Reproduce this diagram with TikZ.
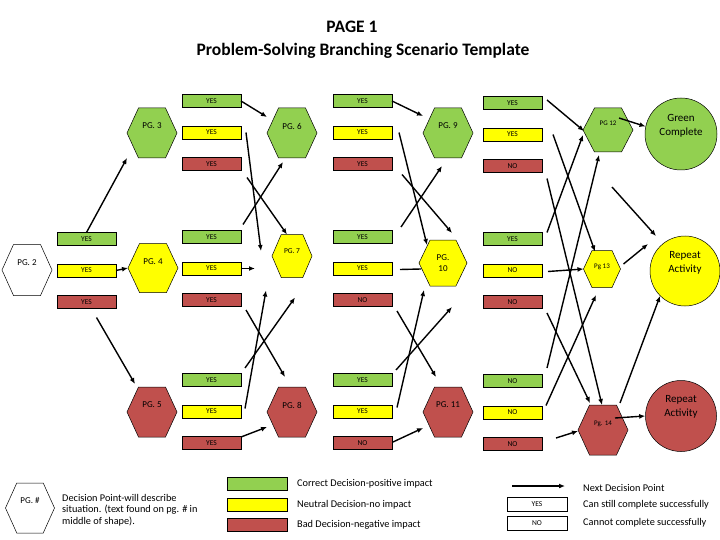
\documentclass[tikz,border=0pt]{standalone}
\usepackage{fontspec}
\setmainfont{Carlito}
\usetikzlibrary{arrows.meta,calc}
\definecolor{pgGreen}{HTML}{92D050}
\definecolor{pgYellow}{HTML}{FFFF00}
\definecolor{pgRed}{HTML}{C0504D}
% decision point: name, x, y, width, height, fill, text, text shift
\newcommand{\hexpg}[8]{%
  \node[hexbox, minimum width=#4pt, minimum height=#5pt] (#1) at (#2,#3) {};
  \draw[hexline, fill=#6] (#1.west) -- ($(#1.north west)!0.23!(#1.north east)$)
    -- ($(#1.north west)!0.77!(#1.north east)$) -- (#1.east)
    -- ($(#1.south west)!0.77!(#1.south east)$) -- ($(#1.south west)!0.23!(#1.south east)$) -- cycle;
  \node[hextext] at ($(#1.center)+(0,#8)$) {#7};
}

\begin{document}
\begin{tikzpicture}[x=1pt, y=-1pt,
  choice/.style={draw, line width=0.5pt, fill=#1, minimum width=59pt, minimum height=13pt,
    inner sep=0pt, outer sep=0pt, font=\fontsize{7.5}{7.5}\selectfont},
  hexbox/.style={inner sep=0pt, outer sep=0pt},
  hexline/.style={draw=black, line width=0.5pt},
  hextext/.style={font=\fontsize{9}{10.5}\selectfont, align=center, inner sep=0pt},
  goal/.style={circle, draw, line width=0.5pt, fill=#1, minimum size=71pt, inner sep=0pt},
  goaltext/.style={font=\fontsize{11}{13.5}\selectfont, align=center, inner sep=0pt},
  nxt/.style={-{Latex[length=6pt,width=5pt]}, line width=1.4pt},
  lab/.style={font=\fontsize{10.3}{11.5}\selectfont, anchor=west, align=left, inner sep=0pt}
]
\useasboundingbox (0,0) rectangle (720,540);
% title
\node[font=\bfseries\fontsize{17.5}{20}\selectfont] (ttl) at (352,27) {PAGE 1};
\node[font=\bfseries\fontsize{17.5}{20}\selectfont] (sub) at (363,51) {Problem-Solving Branching Scenario Template};

% decision points
\hexpg{pg2}{27}{270}{50}{51}{white}{PG. 2}{-7}
\hexpg{pg3}{152}{133}{50}{50}{pgGreen}{PG. 3}{-7}
\hexpg{pg4}{153}{268}{50}{49}{pgYellow}{PG. 4}{-6}
\hexpg{pg5}{152}{412}{50}{50}{pgRed}{PG. 5}{-7}
\hexpg{pg6}{292}{133}{50}{50}{pgGreen}{PG. 6}{-7}
\hexpg{pg7}{292}{256}{40}{43}{pgYellow}{\fontsize{7.5}{8}\selectfont PG. 7}{-5}
\hexpg{pg8}{292}{412}{50}{50}{pgRed}{PG. 8}{-7}
\hexpg{pg9}{448}{133}{50}{50}{pgGreen}{PG. 9}{-7}
\hexpg{pg10}{443}{263}{48}{46}{pgYellow}{PG.\\10}{0}
\hexpg{pg11}{448}{412}{50}{50}{pgRed}{PG. 11}{-7}
\hexpg{pg12}{608}{130}{50}{44}{pgGreen}{\fontsize{7}{8}\selectfont PG 12}{-7}
\hexpg{pg13}{602}{269}{37}{37}{pgYellow}{\fontsize{7}{8}\selectfont Pg 13}{-2}
\hexpg{pg14}{603}{430}{50}{50}{pgRed}{\fontsize{7}{8}\selectfont Pg. 14}{-6}

% end points
\node[goal=pgGreen, minimum size=72pt] (ok) at (681,134) {};
\node[goaltext] at ($(ok)+(0,-8)$) {Green\\Complete};
\node[goal=pgYellow, minimum size=70pt] (rpy) at (685,271) {};
\node[goaltext] at ($(rpy)+(0,-8)$) {Repeat\\Activity};
\node[goal=pgRed] (rpr) at (681,416) {};
\node[goaltext] at ($(rpr)+(0,-9)$) {Repeat\\Activity};

% choices: green / yellow / red
\foreach \n/\x/\y/\la/\lb/\lc in {a/86.5/239/YES/YES/YES,
    bt/211.5/101/YES/YES/YES, bm/211.5/237/YES/YES/YES, bb/211.5/380/YES/YES/YES,
    ct/362.5/101/YES/YES/YES, cm/362.5/237/YES/YES/NO, cb/362.5/380/YES/YES/NO,
    dt/512.5/103/YES/YES/NO, dm/512.5/239/YES/NO/NO, db/512.5/381/NO/NO/NO}{
  \node[choice=pgGreen] (\n1) at (\x,\y) {\la};
  \node[choice=pgYellow] (\n2) at (\x,\y+31.5) {\lb};
  \node[choice=pgRed] (\n3) at (\x,\y+63) {\lc};
}

% branches from PG. 2
\draw[nxt] (a1.north) -- (pg3.south west);
\draw[nxt] (a2.east) -- (pg4.west);
\draw[nxt] ($(a3.south)+(10,9)$) -- ($(pg5.north west)+(8,-3)$);
% branches from PG. 3 - 5
\draw[nxt] (bt1.east) -- ($(pg6.west)+(0,-16)$);
\draw[nxt] ($(bt2.east)+(5,0)$) -- ($(pg7.west)+(-11,-5)$);
\draw[nxt] ($(bt3.south east)+(6,7)$) -- ($(pg7.north)+(-5,0)$);
\draw[nxt] ($(bm1.north east)+(2,-6)$) -- ($(pg6.south)+(-9,4)$);
\draw[nxt] (bm2.east) -- +(14,0);
\draw[nxt] ($(bm3.south east)+(5,3.5)$) -- ($(pg8.north)+(-7,-10)$);
\draw[nxt] ($(bb1.north east)+(4,-5.5)$) -- ($(pg7.south)+(3,20)$);
\draw[nxt] ($(bb2.east)+(4,-3)$) -- ($(pg7.south west)+(-6,13)$);
\draw[nxt] ($(bb3.east)+(0,-6)$) -- ($(pg8.west)+(0,15)$);
% branches from PG. 6 - 8
\draw[nxt] (ct1.east) -- ($(pg9.west)+(0,-17)$);
\draw[nxt] ($(ct2.east)+(7,0)$) -- ($(pg10.north west)+(8,5)$);
\draw[nxt] ($(ct3.south east)+(10,4)$) -- ($(pg10.north)+(9,-7)$);
\draw[nxt] ($(cm1.north east)+(9,-3.5)$) -- ($(pg9.south)+(-6,8)$);
\draw[line width=1.4pt] ($(cm2.east)+(8,1)$) -- ($(pg10.west)+(2,6)$);
\draw[nxt] ($(cm3.south east)+(5,4.5)$) -- ($(pg11.north)+(-12,-10)$);
\draw[nxt] ($(cb1.north east)+(4,-3.5)$) -- ($(pg10.south)+(9,21)$);
\draw[nxt] ($(cb2.east)+(5,-4)$) -- ($(pg10.south west)+(5,4)$);
\draw[nxt] ($(cb3.east)+(1,-1)$) -- ($(pg11.west)+(0,16)$);
% branches from PG. 9 - 11
\draw[nxt] ($(dt1.east)+(5,-3)$) -- ($(pg12.west)+(1,1)$);
\draw[nxt] ($(dt2.east)+(11,0)$) -- ($(pg13.north)+(-7,1)$);
\draw[nxt] ($(dt3.south east)+(5,6)$) -- ($(pg14.north)+(-1,0)$);
\draw[nxt] ($(dm1.north east)+(5,0)$) -- ($(pg12.west)+(0,5)$);
\draw[nxt] ($(dm2.east)+(6,1)$) -- (pg13.west);
\draw[nxt] ($(dm3.south east)+(5,4.5)$) -- ($(pg14.north)+(-13,-2)$);
\draw[nxt] ($(db1.north east)+(5,-6.5)$) -- ($(pg12.south)+(-9,3)$);
\draw[nxt] ($(db2.east)+(4,-7)$) -- ($(pg13.south)+(-6,7.5)$);
\draw[nxt] ($(db3.east)+(14,-6)$) -- ($(pg14.west)+(0,1)$);
% to the end points
\draw[nxt] ($(pg12.center)+(11,-12)$) -- (ok.168);
\draw[nxt] ($(pg12.south)+(4,35)$) -- ($(rpy.center)+(-29,-35)$);
\draw[nxt] ($(pg13.east)+(3,-5)$) -- ($(rpy.center)+(-37,-27)$);
\draw[nxt] ($(pg14.north east)+(-8,-2)$) -- (rpy.225);
\draw[nxt] ($(pg14.center)+(12,-12)$) -- (rpr.west);

% key
\hexpg{pgx}{30}{508}{49}{50}{white}{PG. \#}{-8}
\node[lab] (desc) at (62,510) {Decision Point-will describe\\situation. (text found on pg. \# in\\middle of shape).};
\foreach \n/\y/\cl/\t in {kg/483.5/pgGreen/Correct Decision-positive impact,
    ky/504.5/pgYellow/Neutral Decision-no impact, kr/524.5/pgRed/Bad Decision-negative impact}{
  \node[choice=\cl, minimum width=60pt] (\n) at (257,\y) {};
  \node[lab] (\n t) at (297,\y) {\t};
}
\node[lab] (knext) at (583,488) {Next Decision Point};
\draw[nxt] ($(knext.west)+(-71,-2)$) -- ($(knext.west)+(-18,-2)$);
\node[choice=white, minimum width=60pt, minimum height=14pt] (kyes) at (537,504.5) {YES};
\node[choice=white, minimum width=60pt, minimum height=14pt] (kno) at (537,523) {NO};
\node[lab] (kyest) at (583,505) {Can still complete successfully};
\node[lab] (knot) at (583,523) {Cannot complete successfully};
\end{tikzpicture}
\end{document}
